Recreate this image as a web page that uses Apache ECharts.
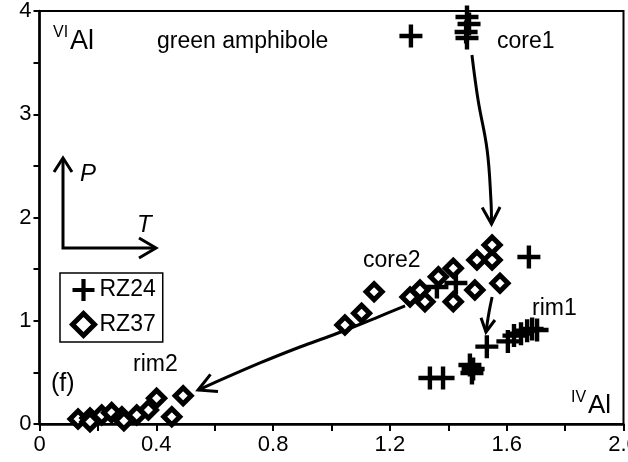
<!DOCTYPE html>
<html><head><meta charset="utf-8">
<script src="https://cdn.jsdelivr.net/npm/echarts@6/dist/echarts.min.js"></script>
<style>html,body{margin:0;padding:0;background:#fff}#c{width:628px;height:462px}</style>
</head><body><div id="c"></div>
<script>
// ---- data ----
const rz24 = [
  [1.272,3.758],[1.464,3.942],[1.471,3.874],[1.461,3.797],[1.464,3.738],
  [1.676,1.617],[1.361,1.327],[1.426,1.366],
  [1.532,0.749],[1.604,0.800],[1.625,0.856],[1.649,0.875],[1.670,0.904],[1.687,0.920],[1.704,0.910],
  [1.474,0.571],[1.485,0.533],[1.481,0.494],[1.337,0.445],[1.382,0.445]
];
const rz37 = [
  [0.132,0.048],[0.173,0.058],[0.173,0.022],[0.213,0.087],[0.247,0.110],[0.282,0.071],[0.289,0.032],
  [0.333,0.087],[0.373,0.136],[0.401,0.249],[0.453,0.071],[0.492,0.274],
  [1.046,0.959],[1.103,1.072],[1.146,1.281],
  [1.269,1.230],[1.303,1.298],[1.320,1.185],[1.366,1.427],[1.417,1.508],[1.417,1.185],
  [1.491,1.298],[1.498,1.588],[1.550,1.588],[1.550,1.734],[1.577,1.363]
];
// arrow paths (data coordinates)
const arrowCore1 = [[1.481,3.574],[1.502,3.138],[1.533,2.654],[1.546,2.169],[1.548,1.937]];
const arrowRim1 = [[1.550,1.230],[1.539,1.075],[1.529,0.891]];
const arrowRim2 = [[1.252,1.143],[1.159,1.036],[1.005,0.862],[0.892,0.746],[0.755,0.591],[0.543,0.329]];
const xTicks = ['0','0.4','0.8','1.2','1.6','2.0'];
const yTicks = ['0','1','2','3','4'];
const seriesNames = ['RZ24','RZ37'];

const arrows = [arrowCore1, arrowRim1, arrowRim2];
const headLen = [19, 15, 20];

const crossPath = 'path://M0,9.3H9.3V0H13.7V9.3H23V13.7H13.7V23H9.3V13.7H0Z';
const FONT = 'Liberation Sans, Arial, sans-serif';

const chart = echarts.init(document.getElementById('c'), null, {renderer:'canvas'});

function arrowItem(params, api) {
  const pts = arrows[params.dataIndex].map(p => api.coord(p));
  const n = pts.length;
  const tip = pts[n-1], prev = pts[n-2];
  const ang = Math.atan2(tip[1]-prev[1], tip[0]-prev[0]);
  const L = headLen[params.dataIndex], a = 28*Math.PI/180;
  const b1 = [tip[0]-L*Math.cos(ang-a), tip[1]-L*Math.sin(ang-a)];
  const b2 = [tip[0]-L*Math.cos(ang+a), tip[1]-L*Math.sin(ang+a)];
  return {
    type:'group',
    children:[
      {type:'polyline', shape:{points:pts, smooth:0.4}, style:{stroke:'#000', lineWidth:3, fill:null}},
      {type:'polyline', shape:{points:[b1,tip,b2]}, style:{stroke:'#000', lineWidth:3, fill:null}}
    ]
  };
}

const option = {
  animation:false,
  backgroundColor:'#fff',
  grid:{left:39.5, right:4.5, top:11, bottom:38, show:true, borderColor:'#000', borderWidth:2,
        containLabel:false, outerBoundsMode:'none'},
  xAxis:{
    type:'value', min:0, max:2, interval:0.2,
    axisLine:{show:true, onZero:false, lineStyle:{color:'#000', width:2.5}},
    axisTick:{show:true, length:7, lineStyle:{color:'#000', width:2}},
    splitLine:{show:false},
    axisLabel:{color:'#000', fontSize:22, fontFamily:FONT, margin:10, hideOverlap:false, showMaxLabel:true, showMinLabel:true,
      formatter:function(v){const k=Math.round(v*10); return k%4===0 ? xTicks[k/4] : '';}}
  },
  yAxis:{
    type:'value', min:0, max:4, interval:0.5,
    axisLine:{show:true, onZero:false, lineStyle:{color:'#000', width:2.5}},
    axisTick:{show:true, length:6, lineStyle:{color:'#000', width:2}},
    splitLine:{show:false},
    axisLabel:{color:'#000', fontSize:22, fontFamily:FONT, margin:8, showMaxLabel:true, showMinLabel:true,
      formatter:function(v){const k=Math.round(v*2); return k%2===0 ? yTicks[k/2] : '';}}
  },
  legend:{
    left:60, top:273, orient:'vertical',
    padding:[4,7,4,10], itemGap:8, itemWidth:22, itemHeight:22,
    borderColor:'#000', borderWidth:1.5, borderRadius:0,
    textStyle:{color:'#000', fontSize:23, fontFamily:FONT, lineHeight:26},
    data:[
      {name:seriesNames[0], icon:crossPath, itemStyle:{color:'#000', borderWidth:0}},
      {name:seriesNames[1], icon:'diamond', itemStyle:{color:'#fff', borderColor:'#000', borderWidth:5}}
    ]
  },
  series:[
    {type:'custom', coordinateSystem:'cartesian2d', z:1, silent:true, clip:false,
     data:arrows.map(p=>p[0]), renderItem:arrowItem},
    {name:seriesNames[0], type:'scatter', z:3, symbol:crossPath, symbolSize:23,
     itemStyle:{color:'#000', opacity:1}, data:rz24},
    {name:seriesNames[1], type:'scatter', z:4, symbol:'diamond', symbolSize:16,
     itemStyle:{color:'#fff', borderColor:'#000', borderWidth:5, opacity:1}, data:rz37}
  ],
  graphic:[
    {type:'text', left:53, top:25, style:{text:'VI', font:'16px '+FONT, fill:'#000'}},
    {type:'text', left:70, top:28, style:{text:'Al', font:'27px '+FONT, fill:'#000'}},
    {type:'text', left:157, top:30, style:{text:'green amphibole', font:'23px '+FONT, fill:'#000'}},
    {type:'text', left:497, top:30, style:{text:'core1', font:'23px '+FONT, fill:'#000'}},
    {type:'text', left:363, top:249, style:{text:'core2', font:'23px '+FONT, fill:'#000'}},
    {type:'text', left:532, top:297, style:{text:'rim1', font:'23px '+FONT, fill:'#000'}},
    {type:'text', left:133, top:353, style:{text:'rim2', font:'23px '+FONT, fill:'#000'}},
    {type:'text', left:51, top:372, style:{text:'(f)', font:'25px '+FONT, fill:'#000'}},
    {type:'text', left:571, top:390, style:{text:'IV', font:'16px '+FONT, fill:'#000'}},
    {type:'text', left:588, top:393, style:{text:'Al', font:'26px '+FONT, fill:'#000'}},
    {type:'polyline', shape:{points:[[63,159],[63,248],[155,248]]}, style:{stroke:'#000', lineWidth:3, fill:null}},
    {type:'polyline', shape:{points:[[54,172],[63,158],[72,172]]}, style:{stroke:'#000', lineWidth:3, fill:null}},
    {type:'polyline', shape:{points:[[139,238],[156,248],[139,258]]}, style:{stroke:'#000', lineWidth:3, fill:null}},
    {type:'text', left:80, top:162, style:{text:'P', font:'italic 24px '+FONT, fill:'#000'}},
    {type:'text', left:137, top:213, style:{text:'T', font:'italic 24px '+FONT, fill:'#000'}}
  ]
};
chart.setOption(option);
</script></body></html>
